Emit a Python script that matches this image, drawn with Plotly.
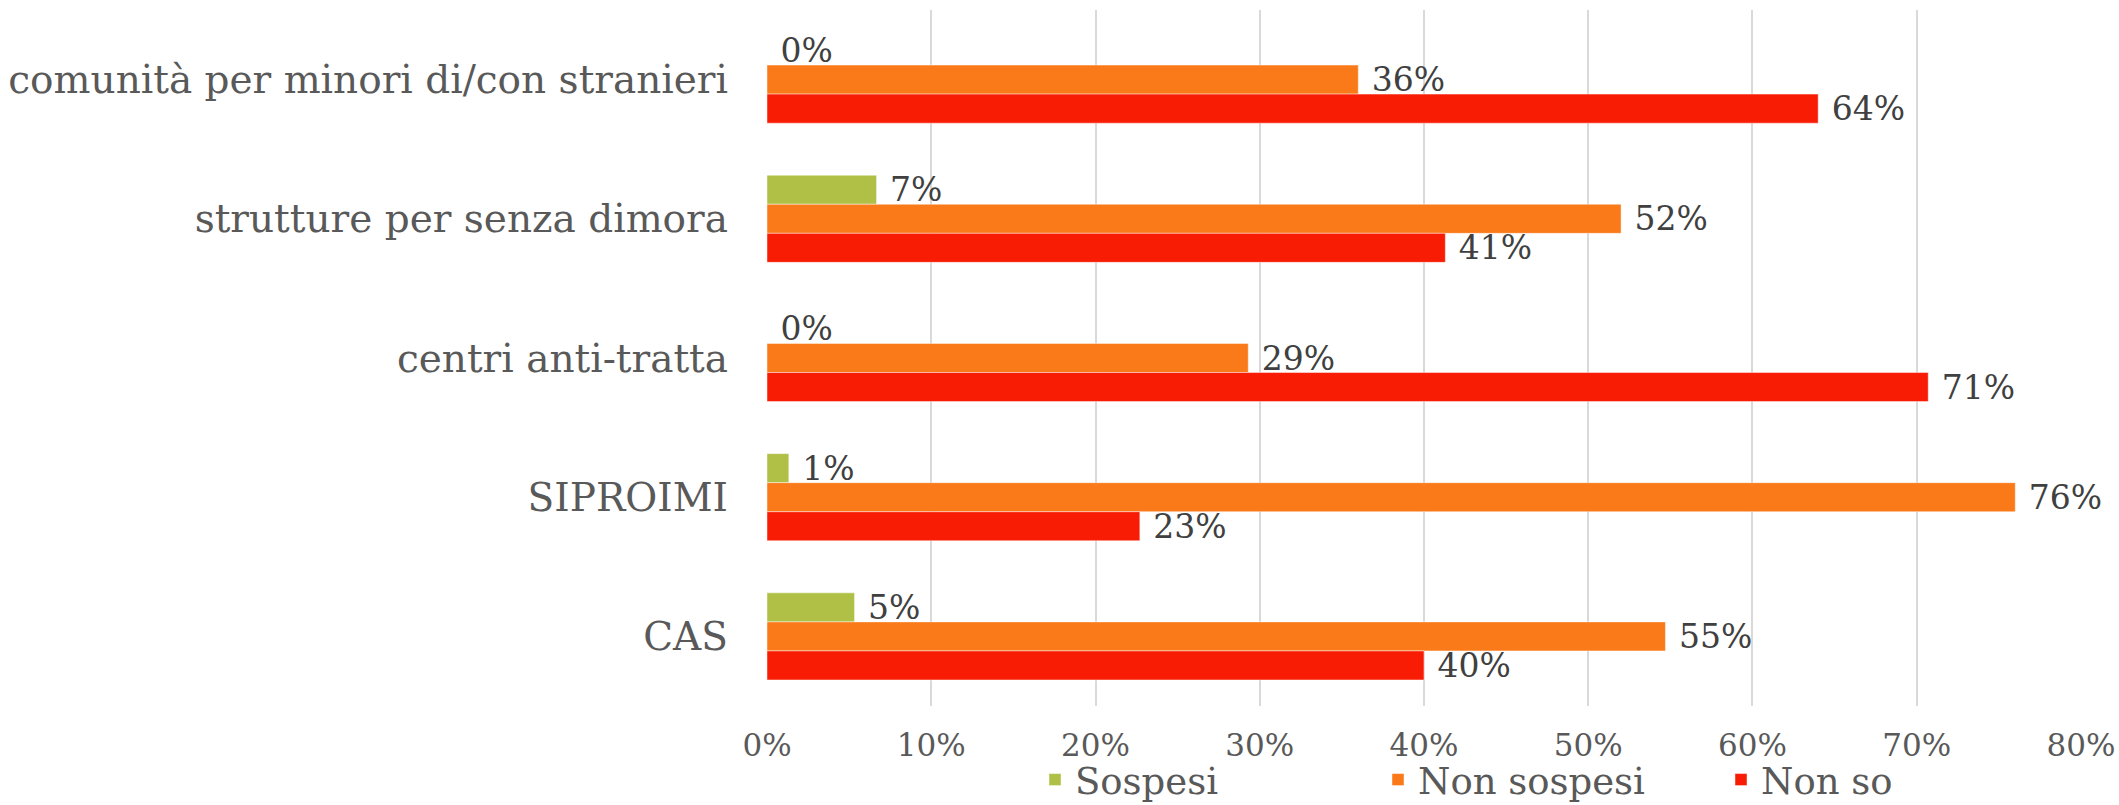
import plotly.graph_objects as go

# Kategorien (von oben nach unten)
categorie = [
    "comunità per minori di/con stranieri",
    "strutture per senza dimora",
    "centri anti-tratta",
    "SIPROIMI",
    "CAS",
]
serie = ["Sospesi", "Non sospesi", "Non so"]
sospesi = [0.0, 0.0667, 0.0, 0.0133, 0.0533]
non_sospesi = [0.36, 0.52, 0.293, 0.76, 0.547]
non_so = [0.64, 0.413, 0.707, 0.227, 0.40]
colori = ["#b0c046", "#fa7a19", "#f81c05"]

font_fam = "DejaVu Serif"
grigio = "#595959"

W, H = 2119, 805

fig = go.Figure()
for nome, valori, col in zip(serie, [sospesi, non_sospesi, non_so], colori):
    fig.add_trace(go.Bar(
        y=categorie, x=valori, name=nome, orientation="h",
        marker=dict(color=col, line=dict(color="rgba(255,255,255,0.45)", width=1)),
        texttemplate="\u00a0%{x:.0%}", textposition="outside",
        constraintext="none", cliponaxis=False,
        textfont=dict(family=font_fam, size=33, color="#404040"),
    ))

fig.update_layout(
    width=W, height=H,
    barmode="group", bargap=0.374, bargroupgap=0,
    plot_bgcolor="white", paper_bgcolor="white",
    margin=dict(l=767, r=38, t=10, b=99, autoexpand=False),
    font=dict(family=font_fam, color=grigio),
    legend=dict(
        orientation="h", xref="container", yref="container",
        x=1035 / W, xanchor="left", y=1 - 780 / H, yanchor="middle",
        entrywidth=298, entrywidthmode="pixels",
        bgcolor="rgba(0,0,0,0)",
        font=dict(family=font_fam, size=37, color=grigio),
    ),
    showlegend=True,
)
fig.update_xaxes(
    range=[0, 0.80001], tickvals=[0, 0.1, 0.2, 0.3, 0.4, 0.5, 0.6, 0.7, 0.8],
    tickformat=".0%",
    showgrid=True, gridcolor="#d9d9d9", gridwidth=1.5,
    zeroline=False, showline=False,
    tickfont=dict(family=font_fam, size=31, color=grigio),
    ticklabelstandoff=18,
)
fig.update_yaxes(
    autorange="reversed", showgrid=False, showline=False,
    tickfont=dict(family=font_fam, size=39, color=grigio),
    ticklabelstandoff=38,
)

# Seitenrand entfernen, damit die Grafik bündig im Fenster liegt
fig.write_html("out.html", config={"displayModeBar": False},
               post_script="document.body.style.margin='0px';")
